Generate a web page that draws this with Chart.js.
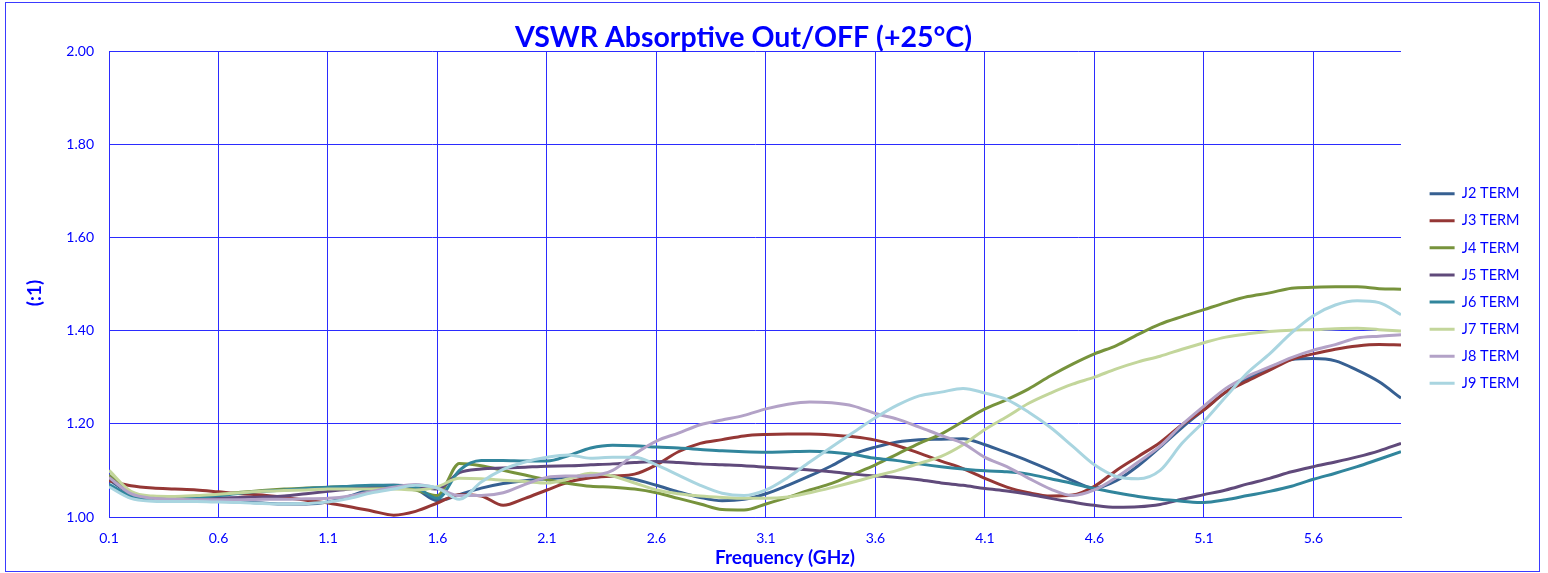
<!DOCTYPE html>
<html>
<head>
<meta charset="utf-8">
<script src="https://cdn.jsdelivr.net/npm/chart.js@4.4.1/dist/chart.umd.min.js"></script>
<style>
html,body{margin:0;padding:0;background:#ffffff;}
#wrap{width:1548px;height:573px;position:relative;}
canvas{display:block;}
</style>
</head>
<body>
<div id="wrap"><canvas id="c" width="1548" height="573"></canvas></div>
<script>
// ---- data ----
const chartTitle = 'VSWR Absorptive Out/OFF (+25°C)';
const xAxisTitle = 'Frequency (GHz)';
const yAxisTitle = '(:1)';

const freqGHz = [0.1,0.2,0.3,0.4,0.5,0.6,0.7,0.8,0.9,1.0,
                 1.1,1.2,1.3,1.4,1.5,1.6,1.7,1.8,1.9,2.0,
                 2.1,2.2,2.3,2.4,2.5,2.6,2.7,2.8,2.9,3.0,
                 3.1,3.2,3.3,3.4,3.5,3.6,3.7,3.8,3.9,4.0,
                 4.1,4.2,4.3,4.4,4.5,4.6,4.7,4.8,4.9,5.0,
                 5.1,5.2,5.3,5.4,5.5,5.6,5.7,5.8,5.9,6.0];

const xTickValues = [0.1,0.6,1.1,1.6,2.1,2.6,3.1,3.6,4.1,4.6,5.1,5.6];
const yTickValues = [1.00,1.20,1.40,1.60,1.80,2.00];

const seriesNames = ['J2 TERM','J3 TERM','J4 TERM','J5 TERM','J6 TERM','J7 TERM','J8 TERM','J9 TERM'];

const J2 = [1.080,1.050,1.040,1.038,1.036,1.034,1.032,1.030,1.028,1.028,
            1.032,1.045,1.060,1.066,1.060,1.035,1.048,1.062,1.072,1.078,
            1.082,1.085,1.089,1.088,1.081,1.068,1.054,1.042,1.035,1.038,
            1.050,1.068,1.088,1.110,1.135,1.150,1.161,1.166,1.167,1.168,
            1.155,1.138,1.120,1.100,1.078,1.062,1.078,1.110,1.150,1.192,
            1.230,1.268,1.297,1.320,1.338,1.340,1.335,1.315,1.290,1.255];
const J3 = [1.078,1.067,1.062,1.060,1.058,1.054,1.050,1.047,1.042,1.036,
            1.030,1.022,1.013,1.004,1.012,1.030,1.048,1.045,1.025,1.040,
            1.058,1.075,1.084,1.088,1.092,1.112,1.140,1.158,1.166,1.174,
            1.177,1.178,1.178,1.176,1.172,1.165,1.153,1.137,1.120,1.104,
            1.083,1.064,1.052,1.045,1.047,1.066,1.100,1.130,1.160,1.198,
            1.230,1.268,1.292,1.315,1.338,1.350,1.360,1.367,1.370,1.369];
const J4 = [1.090,1.050,1.040,1.040,1.044,1.048,1.053,1.057,1.060,1.062,
            1.064,1.065,1.065,1.064,1.058,1.046,1.115,1.110,1.100,1.090,
            1.080,1.072,1.066,1.064,1.060,1.052,1.040,1.028,1.016,1.015,
            1.028,1.042,1.058,1.072,1.092,1.112,1.135,1.158,1.178,1.205,
            1.232,1.252,1.275,1.303,1.328,1.350,1.368,1.392,1.414,1.430,
            1.445,1.460,1.473,1.481,1.491,1.493,1.494,1.494,1.490,1.489];
const J5 = [1.085,1.050,1.042,1.040,1.040,1.041,1.042,1.043,1.045,1.050,
            1.055,1.060,1.066,1.068,1.066,1.060,1.095,1.103,1.105,1.107,
            1.109,1.110,1.112,1.114,1.117,1.119,1.117,1.114,1.112,1.110,
            1.107,1.104,1.101,1.097,1.092,1.088,1.085,1.080,1.073,1.068,
            1.061,1.056,1.049,1.040,1.032,1.025,1.021,1.022,1.027,1.038,
            1.048,1.058,1.071,1.083,1.097,1.108,1.118,1.129,1.142,1.158];
const J6 = [1.070,1.045,1.038,1.038,1.042,1.046,1.051,1.055,1.058,1.061,
            1.064,1.066,1.068,1.068,1.064,1.040,1.100,1.121,1.121,1.120,
            1.120,1.132,1.148,1.154,1.153,1.150,1.148,1.145,1.142,1.140,
            1.139,1.140,1.141,1.139,1.134,1.126,1.121,1.114,1.108,1.103,
            1.099,1.097,1.092,1.082,1.072,1.061,1.052,1.044,1.038,1.034,
            1.031,1.037,1.046,1.055,1.066,1.081,1.094,1.108,1.124,1.140];
const J7 = [1.100,1.055,1.045,1.044,1.046,1.049,1.052,1.055,1.057,1.058,
            1.060,1.060,1.060,1.060,1.058,1.065,1.083,1.082,1.079,1.076,
            1.073,1.082,1.094,1.088,1.073,1.058,1.050,1.045,1.042,1.040,
            1.040,1.043,1.052,1.063,1.075,1.088,1.100,1.115,1.130,1.155,
            1.188,1.215,1.244,1.266,1.285,1.300,1.318,1.333,1.345,1.360,
            1.374,1.386,1.393,1.398,1.401,1.402,1.404,1.405,1.402,1.399];
const J8 = [1.085,1.050,1.040,1.038,1.037,1.037,1.037,1.038,1.038,1.039,
            1.040,1.045,1.055,1.064,1.070,1.062,1.046,1.046,1.052,1.070,
            1.085,1.088,1.089,1.100,1.135,1.163,1.180,1.198,1.208,1.218,
            1.232,1.242,1.247,1.245,1.238,1.222,1.210,1.193,1.175,1.158,
            1.128,1.108,1.083,1.060,1.046,1.058,1.085,1.118,1.152,1.198,
            1.238,1.276,1.302,1.322,1.342,1.358,1.370,1.384,1.388,1.391];
const J9 = [1.065,1.040,1.034,1.033,1.033,1.032,1.031,1.029,1.028,1.029,
            1.032,1.040,1.052,1.060,1.068,1.062,1.038,1.075,1.102,1.118,
            1.128,1.133,1.126,1.128,1.128,1.112,1.090,1.068,1.051,1.046,
            1.058,1.085,1.118,1.150,1.182,1.213,1.240,1.260,1.268,1.276,
            1.266,1.252,1.225,1.192,1.152,1.112,1.087,1.082,1.100,1.158,
            1.205,1.258,1.310,1.350,1.395,1.432,1.455,1.464,1.460,1.434];

const seriesValues = [J2,J3,J4,J5,J6,J7,J8,J9];
const seriesColors = ['#376092','#953735','#77933C','#604A7B','#31859C','#C3D69B','#B3A2C7','#A9D5E0'];

// ---- chart ----
const BLUE = '#0000FF';
const GRID = '#2b2bff';
const FONT = 'Lato';

const datasets = seriesNames.map((name, i) => ({
  label: name,
  data: freqGHz.map((f, k) => ({x: f, y: seriesValues[i][k]})),
  borderColor: seriesColors[i],
  backgroundColor: seriesColors[i],
  borderWidth: 3,
  pointRadius: 0,
  pointHoverRadius: 0,
  cubicInterpolationMode: 'monotone',
  fill: false,
  order: seriesNames.length - i
}));

const framePlugin = {
  id: 'frame',
  beforeLayout(chart) {
    const lg = chart.legend;
    if (lg && !lg.__patched) {
      const origFit = lg.fit;
      lg.fit = function () { origFit.call(this); this.width = 147; };
      lg.__patched = true;
    }
  },
  afterLayout(chart) {
    const lg = chart.legend;
    if (lg) { lg.left += 16; lg.right += 16; lg.top += 4.5; lg.bottom += 4.5; }
  },
  beforeDraw(chart) {
    const ctx = chart.ctx;
    ctx.save();
    ctx.fillStyle = '#ffffff';
    ctx.fillRect(0, 0, chart.width, chart.height);
    ctx.restore();
  },
  afterDraw(chart) {
    const ctx = chart.ctx;
    ctx.save();
    ctx.strokeStyle = '#3a3aff';
    ctx.lineWidth = 1;
    ctx.strokeRect(5.5, 2.5, 1534, 569);
    ctx.fillStyle = BLUE;
    ctx.textAlign = 'center';
    ctx.textBaseline = 'alphabetic';
    ctx.font = 'bold 28.5px ' + FONT;
    ctx.fillText(chartTitle, 743.5, 47);
    ctx.font = 'bold 19px ' + FONT;
    ctx.fillText(xAxisTitle, 785, 564);
    ctx.translate(41, 293);
    ctx.rotate(-Math.PI / 2);
    ctx.fillText(yAxisTitle, 0, 0);
    ctx.restore();
  }
};

new Chart(document.getElementById('c'), {
  type: 'line',
  data: { datasets },
  plugins: [framePlugin],
  options: {
    responsive: false,
    animation: false,
    devicePixelRatio: 1,
    layout: { padding: { left: 0, right: 0, top: 51, bottom: 0 } },
    plugins: {
      title: { display: false },
      tooltip: { enabled: false },
      legend: {
        display: true,
        position: 'right',
        align: 'center',
        fullSize: false,
        labels: {
          usePointStyle: true,
          pointStyle: 'line',
          pointStyleWidth: 25,
          padding: 12.6,
          color: BLUE,
          font: { family: FONT, size: 14.5 },
          sort: (a, b) => a.datasetIndex - b.datasetIndex
        }
      }
    },
    scales: {
      x: {
        type: 'linear',
        min: 0.1,
        max: 6.0,
        afterBuildTicks: (scale) => { scale.ticks = xTickValues.map(v => ({ value: v })); },
        afterFit: (scale) => { scale.height = 56; },
        ticks: {
          color: BLUE,
          font: { family: FONT, size: 14 },
          padding: 13,
          maxRotation: 0,
          autoSkip: false,
          callback: (v) => Number(v).toFixed(1)
        },
        grid: { color: GRID, lineWidth: 1, drawTicks: false },
        border: { display: true, color: GRID, width: 1 }
      },
      y: {
        type: 'linear',
        min: 1.0,
        max: 2.0,
        afterBuildTicks: (scale) => { scale.ticks = yTickValues.map(v => ({ value: v })); },
        afterFit: (scale) => { scale.width = 109; },
        ticks: {
          color: BLUE,
          font: { family: FONT, size: 14 },
          padding: 15,
          callback: (v) => Number(v).toFixed(2)
        },
        grid: { color: GRID, lineWidth: 1, drawTicks: false },
        border: { display: true, color: GRID, width: 1 }
      }
    }
  }
});
</script>
</body>
</html>
